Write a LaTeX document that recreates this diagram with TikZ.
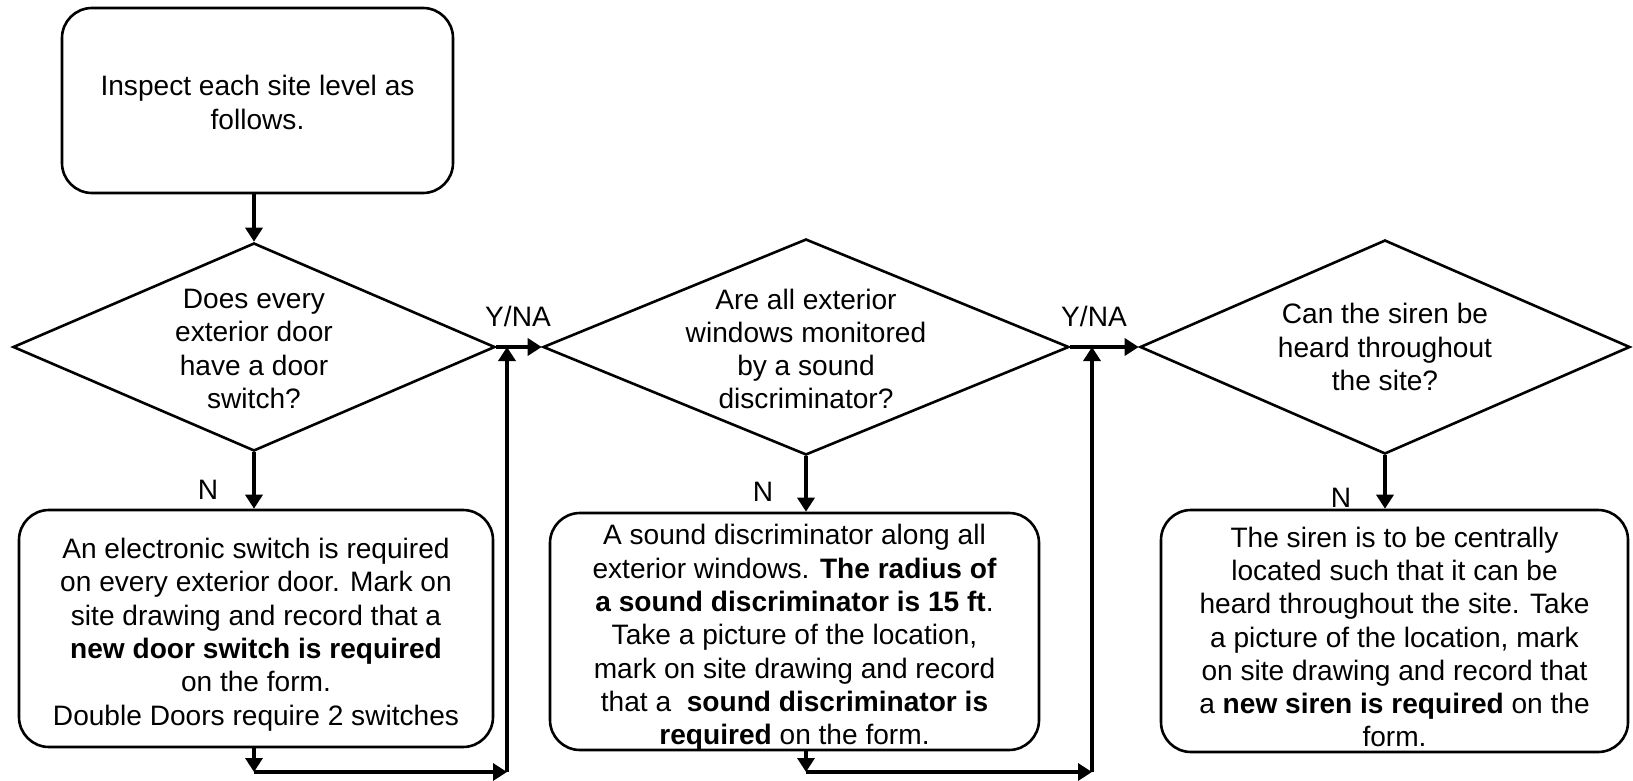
\documentclass[tikz,border=0pt]{standalone}
\usepackage{fontspec}
\setmainfont{Liberation Sans}
\usetikzlibrary{shapes.geometric,arrows.meta}
\begin{document}
\begin{tikzpicture}[x=0.5pt,y=-0.5pt,
  every node/.style={font=\fontsize{14.05}{16.65}\selectfont},
  box/.style={draw, line width=1.3pt, rounded corners=15pt, inner sep=0pt},
  btext/.style={align=center, inner sep=0pt},
  dia/.style={draw, diamond, line width=1.3pt, inner sep=0pt},
  dtext/.style={align=center, inner sep=0pt},
  arr/.style={line width=1.7pt, -{Triangle[length=7pt,width=8.5pt]}},
  lbl/.style={inner sep=0pt}]
\useasboundingbox (0,0) rectangle (1633,781);

% start box
\node[box, minimum width=195.5pt, minimum height=92.5pt] (top) at (257.5,100.5) {};
\node[btext] (topt) at ([yshift=-1pt]top.center) {Inspect each site level as\\follows.};

% decisions
\node[dia, minimum width=241pt, minimum height=104pt] (d1) at (254,347) {};
\node[dtext] (d1t) at ([yshift=-1pt]d1.center) {Does every\\exterior door\\have a door\\switch?};
\node[dia, minimum width=263pt, minimum height=108pt] (d2) at (806,347) {};
\node[dtext] (d2t) at ([yshift=-1pt]d2.center) {Are all exterior\\windows monitored\\by a sound\\discriminator?};
\node[dia, minimum width=245pt, minimum height=107pt] (d3) at (1385,347) {};
\node[dtext] (d3t) at (d3.center) {Can the siren be\\heard throughout\\the site?};

% action boxes
\node[box, minimum width=237pt, minimum height=118.5pt] (b1) at (256,628.5) {};
\node[btext] (b1t) at ([yshift=-3pt]b1.center)
  {An electronic switch is required\\on every exterior door. Mark on\\site drawing and record that a\\\textbf{new door switch is required}\\on the form.\\Double Doors require 2 switches};
\node[box, minimum width=244.5pt, minimum height=118.5pt] (b2) at (794.5,631.5) {};
\node[btext] (b2t) at ([yshift=-3pt]b2.center)
  {A sound discriminator along all\\exterior windows. \textbf{The radius of}\\\textbf{a sound discriminator is 15 ft}.\\Take a picture of the location,\\mark on site drawing and record\\that a \ \textbf{sound discriminator is}\\\textbf{required} on the form.};
\node[box, minimum width=233.5pt, minimum height=121pt] (b3) at (1394.5,631) {};
\node[btext] (b3t) at ([yshift=-3pt]b3.center)
  {The siren is to be centrally\\located such that it can be\\heard throughout the site. Take\\a picture of the location, mark\\on site drawing and record that\\a \textbf{new siren is required} on the\\form.};

% junction points
\coordinate (c1) at (254,772);
\coordinate (r1) at (507,772);
\coordinate (j1) at (507,347);
\coordinate (c2) at (806,772);
\coordinate (r2) at (1092,772);
\coordinate (j2) at (1092,347);

% connectors
\draw[arr] (d1.north |- top.south) -- (d1.north);
\draw[arr] (d1.south) -- (d1.south |- b1.north);
\draw[arr] (d1.south |- b1.south) -- (c1);
\draw[arr] (c1) -- (r1);
\draw[arr] (r1) -- (j1);
\draw[arr] (d1.east) -- (d2.west);

\draw[arr] (d2.south) -- (d2.south |- b2.north);
\draw[arr] (d2.south |- b2.south) -- (c2);
\draw[arr] (c2) -- (r2);
\draw[arr] (r2) -- (j2);
\draw[arr] (d2.east) -- (d3.west);

\draw[arr] (d3.south) -- (d3.south |- b3.north);

% labels
\node[lbl] (n1) at (208,490) {N};
\node[lbl] (n2) at (763,492) {N};
\node[lbl] (n3) at (1341,498) {N};
\node[lbl] (y1) at (518,316) {Y/NA};
\node[lbl] (y2) at (1094,316) {Y/NA};
\end{tikzpicture}
\end{document}
